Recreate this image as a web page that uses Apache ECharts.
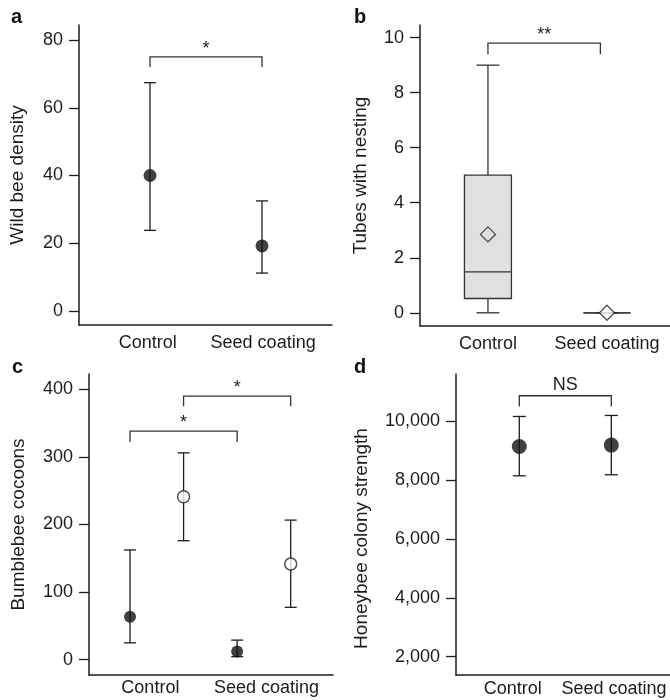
<!DOCTYPE html>
<html>
<head>
<meta charset="utf-8">
<script src="https://cdn.jsdelivr.net/npm/echarts@6/dist/echarts.min.js"></script>
<style>
  html, body { margin: 0; padding: 0; background: #fff; }
  #chart { width: 670px; height: 700px; }
</style>
</head>
<body>
<div id="chart"></div>
<script>
// categories
const groups = ['Control', 'Seed coating'];

// a: wild bee density (mean with error bars)
const beeX = [1, 2];
const beeMean = [40, 19.2];
const beeLow = [23.8, 11.2];
const beeHigh = [67.4, 32.5];
const beeTicks = [0, 20, 40, 60, 80];

// b: tubes with nesting (min, q1, median, q3, max) + mean
const tubeX = [1, 2];
const tubeBox = [[0, 0.52, 1.49, 5.0, 9.0], [0, 0, 0, 0, 0]];
const tubeMean = [2.85, 0];
const tubeTicks = [0, 2, 4, 6, 8, 10];

// c: bumblebee cocoons, filled and open symbols
const cocoonFilledX = [1, 3];
const cocoonFilledMean = [63.7, 12];
const cocoonFilledLow = [25, 4.5];
const cocoonFilledHigh = [162.3, 29];
const cocoonOpenX = [2, 4];
const cocoonOpenMean = [241, 141.5];
const cocoonOpenLow = [176, 77.5];
const cocoonOpenHigh = [306, 206.5];
const cocoonTicks = [0, 100, 200, 300, 400];

// d: honeybee colony strength
const colonyX = [1, 2];
const colonyMean = [9149, 9196];
const colonyLow = [8152, 8187];
const colonyHigh = [10170, 10204];
const colonyTicks = [2000, 4000, 6000, 8000, 10000];

// significance brackets: [x1, x2, top, tip]
const bracketA = [[1, 2, 75, 72]];
const bracketLabelA = ['*'];
const bracketB = [[1, 1.945, 9.8, 9.4]];
const bracketLabelB = ['**'];
const bracketC = [[1, 3, 338, 322], [2, 4, 390, 375]];
const bracketLabelC = ['*', '*'];
const bracketD = [[1, 2, 10874, 10510]];
const bracketLabelD = ['NS'];

const FONT = "'Liberation Sans', Arial, Helvetica, sans-serif";
const INK = '#1c1c1c';

const chart = echarts.init(document.getElementById('chart'));

function zip3(xs, a, b) {
  return xs.map((x, i) => [x, a[i], b[i]]);
}

// error bar: vertical line with caps
function errorBar(capHalf) {
  return function (params, api) {
    const x = api.value(0);
    const lo = api.coord([x, api.value(1)]);
    const hi = api.coord([x, api.value(2)]);
    const st = { stroke: INK, lineWidth: 1.3 };
    return {
      type: 'group',
      children: [
        { type: 'line', shape: { x1: lo[0], y1: lo[1], x2: hi[0], y2: hi[1] }, style: st },
        { type: 'line', shape: { x1: lo[0] - capHalf, y1: lo[1], x2: lo[0] + capHalf, y2: lo[1] }, style: st },
        { type: 'line', shape: { x1: hi[0] - capHalf, y1: hi[1], x2: hi[0] + capHalf, y2: hi[1] }, style: st }
      ]
    };
  };
}

// significance bracket with its label
function bracket(labels, fontSize, gap) {
  return function (params, api) {
    const x1 = api.value(0), x2 = api.value(1), top = api.value(2), tip = api.value(3);
    const p1 = api.coord([x1, tip]);
    const p2 = api.coord([x1, top]);
    const p3 = api.coord([x2, top]);
    const p4 = api.coord([x2, tip]);
    return {
      type: 'group',
      children: [
        {
          type: 'polyline',
          shape: { points: [p1, p2, p3, p4] },
          style: { stroke: '#333', lineWidth: 1.3, fill: 'none' }
        },
        {
          type: 'text',
          style: {
            text: labels[params.dataIndex],
            x: (p2[0] + p3[0]) / 2,
            y: p2[1] - gap,
            align: 'center',
            verticalAlign: 'bottom',
            fontSize: fontSize,
            fontFamily: FONT,
            fill: INK
          }
        }
      ]
    };
  };
}

// box plot drawn with custom shapes
function boxItem(params, api) {
  const x = api.value(0);
  const mn = api.coord([x, api.value(1)]);
  const q1 = api.coord([x, api.value(2)]);
  const md = api.coord([x, api.value(3)]);
  const q3 = api.coord([x, api.value(4)]);
  const mx = api.coord([x, api.value(5)]);
  const bw = 47, cw = 23;
  const st = { stroke: '#333', lineWidth: 1.3 };
  return {
    type: 'group',
    children: [
      { type: 'line', shape: { x1: mn[0], y1: mn[1], x2: q1[0], y2: q1[1] }, style: st },
      { type: 'line', shape: { x1: q3[0], y1: q3[1], x2: mx[0], y2: mx[1] }, style: st },
      { type: 'line', shape: { x1: mn[0] - cw / 2, y1: mn[1], x2: mn[0] + cw / 2, y2: mn[1] }, style: st },
      { type: 'line', shape: { x1: mx[0] - cw / 2, y1: mx[1], x2: mx[0] + cw / 2, y2: mx[1] }, style: st },
      {
        type: 'rect',
        shape: { x: q3[0] - bw / 2, y: q3[1], width: bw, height: q1[1] - q3[1] },
        style: { fill: '#e0e0e2', stroke: '#333', lineWidth: 1.3 }
      },
      { type: 'line', shape: { x1: md[0] - bw / 2, y1: md[1], x2: md[0] + bw / 2, y2: md[1] }, style: st }
    ]
  };
}

function yAxisCfg(idx, min, max, ticks, name, nameGap, fmt, namePad) {
  return {
    type: 'value',
    gridIndex: idx,
    min: min,
    max: max,
    name: name,
    nameLocation: 'middle',
    nameGap: nameGap,
    nameRotate: 90,
    nameTextStyle: { fontSize: 19, fontFamily: FONT, color: INK, padding: namePad || 0 },
    axisLine: { show: true, lineStyle: { color: INK, width: 1.5 } },
    axisTick: { show: true, length: 10, customValues: ticks, lineStyle: { color: INK, width: 1.3 } },
    axisLabel: {
      customValues: ticks,
      margin: 16,
      fontSize: 18,
      fontFamily: FONT,
      color: INK,
      formatter: fmt || (v => String(v))
    },
    splitLine: { show: false }
  };
}

function xAxisCfg(idx, min, max, labelPos, margin) {
  return {
    type: 'value',
    gridIndex: idx,
    min: min,
    max: max,
    axisLine: { show: true, onZero: false, lineStyle: { color: INK, width: 1.5 } },
    axisTick: { show: false },
    axisLabel: {
      customValues: labelPos,
      margin: margin,
      fontSize: 18,
      fontFamily: FONT,
      color: INK,
      formatter: v => groups[labelPos.indexOf(v)]
    },
    splitLine: { show: false }
  };
}

function panelTitle(letter, left, top) {
  return {
    text: letter,
    left: left,
    top: top,
    padding: 0,
    textStyle: { fontSize: 20, fontWeight: 'bold', fontFamily: FONT, color: '#111' }
  };
}

const option = {
  animation: false,
  backgroundColor: '#fff',
  title: [
    panelTitle('a', 11, 7),
    panelTitle('b', 354, 7),
    panelTitle('c', 12, 357),
    panelTitle('d', 354, 357)
  ],
  grid: [
    { left: 79, top: 25, width: 253, height: 300, outerBoundsMode: 'none' },
    { left: 420, top: 25, width: 250, height: 301, outerBoundsMode: 'none' },
    { left: 89, top: 374, width: 244, height: 301, outerBoundsMode: 'none' },
    { left: 456, top: 374, width: 214, height: 301, outerBoundsMode: 'none' }
  ],
  xAxis: [
    xAxisCfg(0, 0.366, 2.625, [0.98, 2.01], 9),
    xAxisCfg(1, 0.429, 2.53, [1, 2], 9),
    xAxisCfg(2, 0.234, 4.79, [1.38, 3.55], 4),
    xAxisCfg(3, 0.312, 2.638, [0.93, 2.03], 5)
  ],
  yAxis: [
    yAxisCfg(0, -4.13, 84.43, beeTicks, 'Wild bee density', 52),
    yAxisCfg(1, -0.48, 10.46, tubeTicks, 'Tubes with nesting', 50),
    yAxisCfg(2, -22.6, 422.6, cocoonTicks, 'Bumblebee cocoons', 61),
    yAxisCfg(3, 1377, 11614, colonyTicks, 'Honeybee colony strength', 85,
      v => v.toLocaleString('en-US'), [0, 28, 0, 0])
  ],
  series: [
    // a
    {
      type: 'custom', xAxisIndex: 0, yAxisIndex: 0,
      renderItem: errorBar(6), data: zip3(beeX, beeLow, beeHigh), z: 2
    },
    {
      type: 'scatter', xAxisIndex: 0, yAxisIndex: 0, symbolSize: 13,
      itemStyle: { color: '#111' },
      data: beeX.map((x, i) => [x, beeMean[i]]), z: 3
    },
    {
      type: 'custom', xAxisIndex: 0, yAxisIndex: 0,
      renderItem: bracket(bracketLabelA, 18, -1), data: bracketA
    },
    // b
    {
      type: 'custom', xAxisIndex: 1, yAxisIndex: 1, renderItem: boxItem,
      data: tubeX.map((x, i) => [x].concat(tubeBox[i])), z: 2
    },
    {
      type: 'scatter', xAxisIndex: 1, yAxisIndex: 1, symbol: 'diamond', symbolSize: 15, z: 3,
      data: [
        { value: [tubeX[0], tubeMean[0]], itemStyle: { color: 'rgba(0,0,0,0)', borderColor: '#222', borderWidth: 1.3 } },
        { value: [tubeX[1], tubeMean[1]], itemStyle: { color: '#fff', borderColor: '#222', borderWidth: 1.3 } }
      ]
    },
    {
      type: 'custom', xAxisIndex: 1, yAxisIndex: 1,
      renderItem: bracket(bracketLabelB, 18, -1), data: bracketB
    },
    // c
    {
      type: 'custom', xAxisIndex: 2, yAxisIndex: 2,
      renderItem: errorBar(6), data: zip3(cocoonFilledX, cocoonFilledLow, cocoonFilledHigh), z: 2
    },
    {
      type: 'custom', xAxisIndex: 2, yAxisIndex: 2,
      renderItem: errorBar(6), data: zip3(cocoonOpenX, cocoonOpenLow, cocoonOpenHigh), z: 2
    },
    {
      type: 'scatter', xAxisIndex: 2, yAxisIndex: 2, symbolSize: 12,
      itemStyle: { color: '#111' },
      data: cocoonFilledX.map((x, i) => [x, cocoonFilledMean[i]]), z: 3
    },
    {
      type: 'scatter', xAxisIndex: 2, yAxisIndex: 2, symbolSize: 12,
      itemStyle: { color: '#fff', borderColor: '#222', borderWidth: 1.5 },
      data: cocoonOpenX.map((x, i) => [x, cocoonOpenMean[i]]), z: 3
    },
    {
      type: 'custom', xAxisIndex: 2, yAxisIndex: 2,
      renderItem: bracket(bracketLabelC, 18, -1), data: bracketC
    },
    // d
    {
      type: 'custom', xAxisIndex: 3, yAxisIndex: 3,
      renderItem: errorBar(6.5), data: zip3(colonyX, colonyLow, colonyHigh), z: 2
    },
    {
      type: 'scatter', xAxisIndex: 3, yAxisIndex: 3, symbolSize: 15,
      itemStyle: { color: '#111' },
      data: colonyX.map((x, i) => [x, colonyMean[i]]), z: 3
    },
    {
      type: 'custom', xAxisIndex: 3, yAxisIndex: 3,
      renderItem: bracket(bracketLabelD, 18, 2), data: bracketD
    }
  ]
};

chart.setOption(option);
</script>
</body>
</html>
